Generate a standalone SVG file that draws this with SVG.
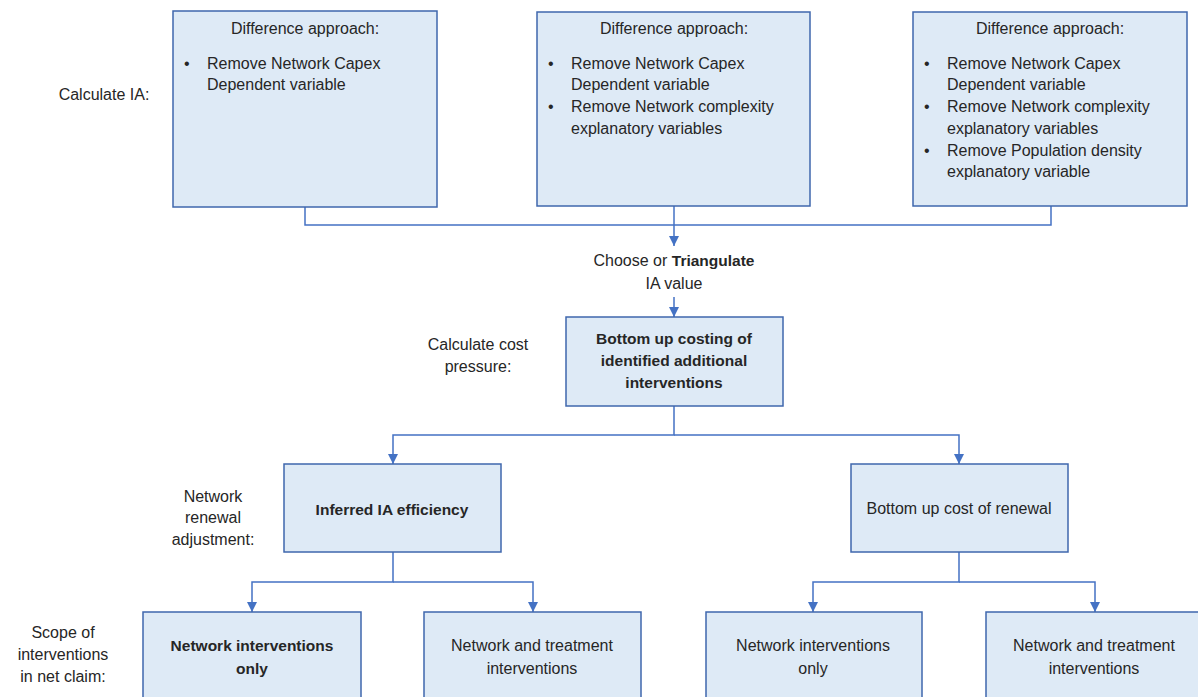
<svg xmlns="http://www.w3.org/2000/svg" width="1198" height="697" viewBox="0 0 1198 697">
<style>
text{font-family:"Liberation Sans",Arial,sans-serif;font-size:16px;fill:#262626;}
.c{text-anchor:middle;}
.b{font-weight:bold;font-size:15.5px;}
.box{fill:#deeaf6;stroke:#3f67ad;stroke-width:1.5;}
.ln{fill:none;stroke:#4472c4;stroke-width:1.5;}
</style>
<defs>
<marker id="ah" markerWidth="10" markerHeight="10" refX="10" refY="5" orient="auto" markerUnits="userSpaceOnUse" viewBox="0 0 10 10">
<path d="M0,0 L10,5 L0,10 Z" fill="#4472c4"/>
</marker>
</defs>
<rect width="1198" height="697" fill="#fff"/>
<g id="labels">
<text class="c" x="104" y="100">Calculate IA:</text>
<text class="c" x="478" y="350">Calculate cost</text>
<text class="c" x="478" y="372">pressure:</text>
<text class="c" x="213" y="502">Network</text>
<text class="c" x="213" y="523">renewal</text>
<text class="c" x="213" y="545">adjustment:</text>
<text class="c" x="63" y="638">Scope of</text>
<text class="c" x="63" y="660">interventions</text>
<text class="c" x="63" y="682">in net claim:</text>
</g>
<g id="connectors">
<path class="ln" d="M305,207 V225 H1051 V206"/>
<path class="ln" d="M674,206 V246" marker-end="url(#ah)"/>
<path class="ln" d="M674,297 V317" marker-end="url(#ah)"/>
<path class="ln" d="M674,406 V435 H393 V464" marker-end="url(#ah)"/>
<path class="ln" d="M674,435 H959 V464" marker-end="url(#ah)"/>
<path class="ln" d="M393,552 V582 H252 V612" marker-end="url(#ah)"/>
<path class="ln" d="M393,582 H533 V612" marker-end="url(#ah)"/>
<path class="ln" d="M959,552 V582 H813 V612" marker-end="url(#ah)"/>
<path class="ln" d="M959,582 H1095 V612" marker-end="url(#ah)"/>
</g>
<g id="box1">
<rect class="box" x="173" y="11" width="264" height="196"/>
<text class="c" x="305" y="34">Difference approach:</text>
<text x="184" y="69">•</text>
<text x="207" y="69">Remove Network Capex</text>
<text x="207" y="90">Dependent variable</text>
</g>
<g id="box2">
<rect class="box" x="537" y="12" width="273" height="194"/>
<text class="c" x="674" y="34">Difference approach:</text>
<text x="548" y="69">•</text>
<text x="571" y="69">Remove Network Capex</text>
<text x="571" y="90">Dependent variable</text>
<text x="548" y="112">•</text>
<text x="571" y="112">Remove Network complexity</text>
<text x="571" y="134">explanatory variables</text>
</g>
<g id="box3">
<rect class="box" x="913" y="12" width="274" height="194"/>
<text class="c" x="1050" y="34">Difference approach:</text>
<text x="924" y="69">•</text>
<text x="947" y="69">Remove Network Capex</text>
<text x="947" y="90">Dependent variable</text>
<text x="924" y="112">•</text>
<text x="947" y="112">Remove Network complexity</text>
<text x="947" y="134">explanatory variables</text>
<text x="924" y="156">•</text>
<text x="947" y="156">Remove Population density</text>
<text x="947" y="177">explanatory variable</text>
</g>
<g id="triangulate">
<text class="c" x="674" y="266">Choose or <tspan class="b">Triangulate</tspan></text>
<text class="c" x="674" y="289">IA value</text>
</g>
<g id="costing">
<rect class="box" x="566" y="317" width="217" height="89"/>
<text class="c b" x="674" y="344">Bottom up costing of</text>
<text class="c b" x="674" y="366">identified additional</text>
<text class="c b" x="674" y="388">interventions</text>
</g>
<g id="inferred">
<rect class="box" x="284" y="464" width="217" height="88"/>
<text class="c b" x="392" y="515">Inferred IA efficiency</text>
</g>
<g id="renewal">
<rect class="box" x="851" y="464" width="217" height="88"/>
<text class="c" x="959" y="514">Bottom up cost of renewal</text>
</g>
<g id="netonly1">
<rect class="box" x="143" y="612" width="218" height="100"/>
<text class="c b" x="252" y="651">Network interventions</text>
<text class="c b" x="252" y="674">only</text>
</g>
<g id="nettreat1">
<rect class="box" x="424" y="612" width="217" height="100"/>
<text class="c" x="532" y="651">Network and treatment</text>
<text class="c" x="532" y="674">interventions</text>
</g>
<g id="netonly2">
<rect class="box" x="706" y="612" width="216" height="100"/>
<text class="c" x="813" y="651">Network interventions</text>
<text class="c" x="813" y="674">only</text>
</g>
<g id="nettreat2">
<rect class="box" x="986" y="612" width="217" height="100"/>
<text class="c" x="1094" y="651">Network and treatment</text>
<text class="c" x="1094" y="674">interventions</text>
</g>
</svg>
